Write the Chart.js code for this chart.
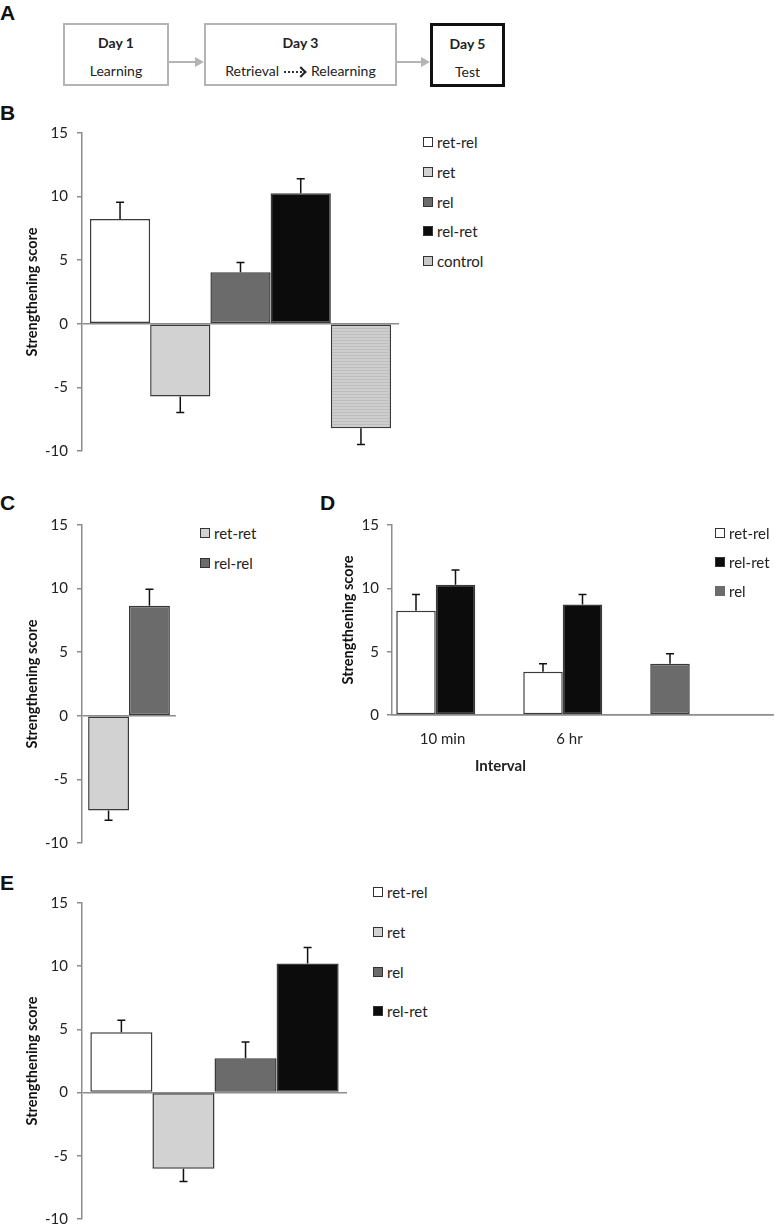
<!DOCTYPE html>
<html lang="en">
<head>
  <meta charset="UTF-8">
  <title>Strengthening score</title>
  <style>
    body {
      margin: 0;
      width: 775px;
      height: 1226px;
      overflow: hidden;
      position: relative;
      background: #fff;
      font-family: Lato, 'Open Sans', Arial, sans-serif;
      color: #222;
    }
    .letter {
      position: absolute;
      font-family: 'Liberation Sans', Arial, sans-serif;
      font-weight: bold;
      font-size: 21px;
      line-height: 21px;
      color: #111;
    }
    .step {
      position: absolute;
      box-sizing: border-box;
      border: 2.5px solid #b4b4b4;
      font-size: 14px;
    }
    .step.last { border: 3px solid #111; }
    .step .t1, .step .t2 {
      position: absolute;
      left: 0; right: 0;
      text-align: center;
      line-height: 16px;
      white-space: nowrap;
    }
    .step .t1 { font-weight: bold; }
    .dots {
      display: inline-block;
      width: 18px;
      border-top: 2px dotted #333;
      vertical-align: middle;
      margin: 0 0 0 5px;
    }
    .chev {
      display: inline-block;
      width: 6px; height: 6px;
      border-top: 2px solid #222;
      border-right: 2px solid #222;
      transform: rotate(45deg);
      vertical-align: middle;
      margin: 0 6px 0 -5px;
    }
    .arrow-line { position: absolute; height: 2px; background: #b4b4b4; }
    .arrow-head {
      position: absolute; width: 0; height: 0;
      border-left: 9px solid #b4b4b4;
      border-top: 5px solid transparent;
      border-bottom: 5px solid transparent;
    }
    canvas { position: absolute; }
    .leg {
      position: absolute;
      display: flex;
      align-items: center;
      height: 18px;
      font-size: 15px;
      line-height: 18px;
      white-space: nowrap;
    }
    .leg .sw {
      width: 10px; height: 10px;
      box-sizing: border-box;
      border: 1.5px solid #333;
      margin-right: 4px;
    }
    .xtitle {
      position: absolute;
      font-weight: bold;
      font-size: 15px;
      line-height: 18px;
    }
  </style>
</head>
<body>
  <!-- panel A: protocol -->
  <div class="letter" style="left:0; top:2px">A</div>
  <div class="step" style="left:63px; top:23px; width:106px; height:63px">
    <div class="t1" style="top:10px">Day 1</div>
    <div class="t2" style="top:38px">Learning</div>
  </div>
  <div class="arrow-line" style="left:169px; top:61px; width:27px"></div>
  <div class="arrow-head" style="left:195px; top:57px"></div>
  <div class="step" style="left:204px; top:23px; width:193px; height:63px">
    <div class="t1" style="top:10px">Day 3</div>
    <div class="t2" style="top:38px">Retrieval<span class="dots"></span><span class="chev"></span>Relearning</div>
  </div>
  <div class="arrow-line" style="left:397px; top:61px; width:25px"></div>
  <div class="arrow-head" style="left:421px; top:57px"></div>
  <div class="step last" style="left:430px; top:23px; width:75px; height:64px">
    <div class="t1" style="top:10px">Day 5</div>
    <div class="t2" style="top:38px">Test</div>
  </div>

  <div class="letter" style="left:0; top:102px">B</div>
  <canvas id="chartB" width="400" height="358" style="left:0; top:113px"></canvas>

  <div class="letter" style="left:0; top:492px">C</div>
  <canvas id="chartC" width="177" height="358" style="left:0; top:505px"></canvas>

  <div class="letter" style="left:320px; top:492px">D</div>
  <canvas id="chartD" width="464" height="285" style="left:310px; top:505px"></canvas>
  <div class="xtitle" style="left:475px; top:756px">Interval</div>

  <div class="letter" style="left:0; top:872px">E</div>
  <canvas id="chartE" width="348" height="356" style="left:0; top:883px"></canvas>

  <script src="https://cdn.jsdelivr.net/npm/chart.js"></script>
  <script>
    // panel B
    const groupsB = ['ret-rel', 'ret', 'rel', 'rel-ret', 'control'];
    const meansB = [8.24, -5.72, 4.06, 10.26, -8.21];
    const semB = [1.31, 1.26, 0.76, 1.15, 1.28];

    // panel C
    const groupsC = ['ret-ret', 'rel-rel'];
    const meansC = [-7.44, 8.66];
    const semC = [0.78, 1.29];

    // panel D (interval between sessions)
    const intervalsD = ['10 min', '6 hr', ''];
    const retRelD = [8.23, 3.42, null];
    const retRelSemD = [1.29, 0.63, null];
    const relRetD = [10.29, 8.73, null];
    const relRetSemD = [1.15, 0.79, null];
    const relD = [null, null, 4.05];
    const relSemD = [null, null, 0.79];

    // panel E
    const groupsE = ['ret-rel', 'ret', 'rel', 'rel-ret'];
    const meansE = [4.78, -6.03, 2.71, 10.21];
    const semE = [0.95, 1.0, 1.29, 1.26];

    const yTicks = [-10, -5, 0, 5, 10, 15];

    Chart.defaults.font.family = 'Lato';
    Chart.defaults.animation = false;

    // horizontal stripes for the control bar
    function stripes() {
      const c = document.createElement('canvas');
      c.width = 4; c.height = 3;
      const g = c.getContext('2d');
      g.fillStyle = '#cecece';
      g.fillRect(0, 0, 4, 3);
      g.fillStyle = '#bdbdbd';
      g.fillRect(0, 2, 4, 1);
      return g.createPattern(c, 'repeat');
    }

    const fills = {
      'ret-rel': '#ffffff',
      'ret': '#d2d2d2',
      'rel': '#6b6b6b',
      'rel-ret': '#0c0c0c',
      'control': stripes(),
      'ret-ret': '#d2d2d2',
      'rel-rel': '#6b6b6b'
    };
    const swatch = {
      'ret-rel': '#ffffff', 'ret': '#d2d2d2', 'rel': '#6b6b6b', 'rel-ret': '#0c0c0c',
      'control': '#c8c8c8', 'ret-ret': '#d2d2d2', 'rel-rel': '#6b6b6b'
    };

    // one-sided error bars, drawn outward from the bar end
    const errorBars = {
      id: 'errorBars',
      afterDatasetsDraw(chart) {
        const ctx = chart.ctx;
        const y = chart.scales.y;
        ctx.save();
        ctx.strokeStyle = '#111';
        ctx.lineWidth = 1.5;
        chart.data.datasets.forEach((ds, di) => {
          if (!ds.err) return;
          chart.getDatasetMeta(di).data.forEach((bar, i) => {
            const v = ds.data[i], e = ds.err[i];
            if (v == null || e == null) return;
            const end = y.getPixelForValue(v + Math.sign(v) * e);
            ctx.beginPath();
            ctx.moveTo(bar.x, bar.y);
            ctx.lineTo(bar.x, end);
            ctx.moveTo(bar.x - 4, end);
            ctx.lineTo(bar.x + 4, end);
            ctx.stroke();
          });
        });
        ctx.restore();
      }
    };

    function yAxis(min, axisWidth, titlePad, tickPad) {
      return {
        min: min,
        max: 15,
        stacked: false,
        afterBuildTicks: s => { s.ticks = yTicks.filter(v => v >= min).map(v => ({ value: v })); },
        ticks: { padding: tickPad, color: '#222', font: { size: 15, lineHeight: 1 } },
        grid: {
          drawOnChartArea: true,
          color: c => (c.tick && c.tick.value === 0) ? '#8c8c8c' : 'rgba(0,0,0,0)',
          tickColor: '#8c8c8c',
          tickLength: 5,
          lineWidth: 1.5
        },
        border: { display: true, color: '#8c8c8c', width: 1.5 },
        title: {
          display: true,
          text: 'Strengthening score',
          color: '#111',
          font: { size: 14.5, weight: 'bold', lineHeight: 1.2 },
          padding: { top: titlePad, bottom: 0 }
        },
        afterFit: s => { s.width = axisWidth; }
      };
    }

    function barSet(label, data, err, catPct, extra) {
      return Object.assign({
        label: label,
        data: data,
        err: err,
        backgroundColor: fills[label],
        borderColor: '#3a3a3a',
        borderWidth: 1.5,
        borderSkipped: false,
        categoryPercentage: catPct,
        barPercentage: 1
      }, extra || {});
    }

    function groupChart(id, groups, means, sem, catPct, layoutPad) {
      new Chart(document.getElementById(id), {
        type: 'bar',
        data: {
          labels: [''],
          datasets: groups.map((g, i) => barSet(g, [means[i]], [sem[i]], catPct))
        },
        options: {
          responsive: false,
          layout: { padding: layoutPad },
          plugins: { legend: { display: false }, tooltip: { enabled: false } },
          scales: {
            x: { display: false },
            y: yAxis(-10, 82, 23.6, 9)
          }
        },
        plugins: [errorBars]
      });
    }

    function legend(names, left, top, step, noBorder) {
      names.forEach((n, i) => {
        const row = document.createElement('div');
        row.className = 'leg';
        row.style.left = left + 'px';
        row.style.top = (top + i * step - 9) + 'px';
        const sw = document.createElement('span');
        sw.className = 'sw';
        sw.style.background = swatch[n];
        if (noBorder && noBorder.includes(n)) sw.style.borderColor = swatch[n];
        row.appendChild(sw);
        row.appendChild(document.createTextNode(n));
        document.body.appendChild(row);
      });
    }

    groupChart('chartB', groupsB, meansB, semB, 0.95, { top: 20, bottom: 20, left: 0, right: 1 });
    groupChart('chartC', groupsC, meansC, semC, 0.87, { top: 20, bottom: 20, left: 0, right: 1 });
    groupChart('chartE', groupsE, meansE, semE, 0.937, { top: 20, bottom: 20, left: 0, right: 1 });

    // D: three slots per interval, rel shares the first slot of the last group
    const catD = 0.933;
    new Chart(document.getElementById('chartD'), {
      type: 'bar',
      data: {
        labels: intervalsD,
        datasets: [
          barSet('ret-rel', retRelD, retRelSemD, catD, { stack: 's1' }),
          barSet('rel', relD, relSemD, catD, { stack: 's1' }),
          barSet('rel-ret', relRetD, relRetSemD, catD, { stack: 's2' }),
          barSet('', [], null, catD, { stack: 's3' })
        ]
      },
      options: {
        responsive: false,
        layout: { padding: { top: 20, bottom: 0, left: 0, right: 1 } },
        plugins: { legend: { display: false }, tooltip: { enabled: false } },
        scales: {
          x: {
            grid: { display: false },
            border: { display: true, color: '#8c8c8c', width: 1.5 },
            ticks: { color: '#222', font: { size: 15 }, padding: 7, labelOffset: -13 },
            afterFit: s => { s.height = 75; }
          },
          y: yAxis(0, 82, 29.6, 8)
        }
      },
      plugins: [errorBars]
    });

    legend(groupsB, 423, 142, 29.8);
    legend(groupsC, 200, 533, 30);
    legend(['ret-rel', 'rel-ret', 'rel'], 715, 533, 29, ['rel']);
    legend(groupsE, 373, 892, 39.8);
  </script>
</body>
</html>
